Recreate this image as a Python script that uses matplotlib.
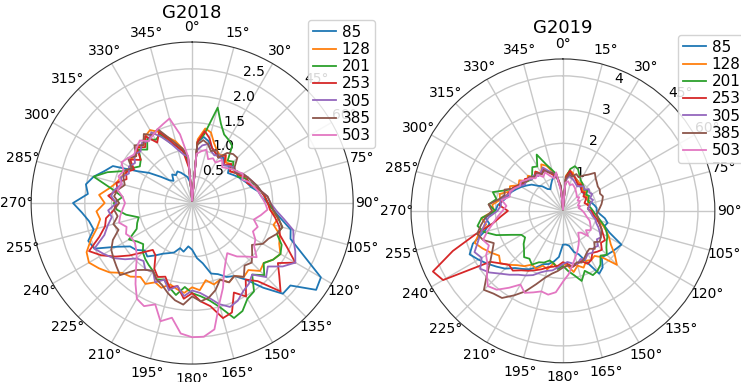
import numpy as np
import matplotlib
matplotlib.use("Agg")
import matplotlib.pyplot as plt

# Direction bins (degrees, clockwise from north), 5-degree steps
angles_deg = list(range(0, 360, 5))
series_labels = ["85", "128", "201", "253", "305", "385", "503"]

# ---- G2018 ----
g18_85 = [0.05, 1.14, 1.25, 1.19, 1.09, 1.03, 0.98, 1.03, 0.92, 0.98, 0.87, 0.92,
          0.98, 1.03, 1.09, 1.14, 1.25, 1.3, 1.41, 1.52, 1.68, 1.9, 1.95, 2.28,
          2.77, 2.82, 2.39, 2.39, 2.06, 1.74, 1.57, 1.52, 1.41, 1.36, 1.14, 1.03,
          0.87, 0.81, 0.92, 0.87, 0.98, 1.03, 1.09, 1.19, 1.3, 1.25, 1.36, 1.41,
          1.63, 2.01, 2.06, 1.9, 1.95, 2.06, 2.22, 1.95, 2.01, 1.9, 1.74, 1.63,
          1.19, 0.98, 0.76, 0.6, 0.54, 0.65, 0.6, 0.65, 0.6, 0.54, 0.49, 0.38]
g18_128 = [0.05, 1.19, 1.41, 1.36, 1.19, 1.09, 1.03, 1.09, 0.98, 1.03, 0.92, 0.98,
           1.03, 1.09, 1.14, 1.19, 1.3, 1.36, 1.41, 1.46, 1.63, 1.57, 1.74, 1.79,
           1.9, 1.84, 1.74, 1.79, 1.63, 1.68, 1.57, 1.63, 1.52, 1.57, 1.46, 1.63,
           1.57, 1.68, 1.63, 1.57, 1.68, 1.63, 1.74, 1.68, 1.79, 1.84, 2.01, 2.12,
           2.22, 2.17, 2.01, 1.84, 1.74, 1.79, 1.63, 1.74, 1.57, 1.46, 1.41, 1.36,
           1.3, 1.41, 1.36, 1.46, 1.41, 1.52, 1.57, 1.46, 1.3, 1.19, 1.03, 0.81]
g18_201 = [0.05, 1.14, 1.3, 1.84, 1.57, 1.41, 1.36, 1.3, 1.03, 1.09, 0.98, 1.03,
           0.98, 1.09, 1.14, 1.25, 1.3, 1.36, 1.41, 1.52, 1.63, 1.74, 1.68, 1.84,
           1.9, 1.84, 1.74, 1.9, 1.74, 2.01, 2.06, 2.22, 2.28, 2.01, 1.84, 1.74,
           1.68, 1.57, 1.74, 1.63, 1.52, 1.57, 1.46, 1.41, 1.36, 1.3, 1.19, 1.25,
           1.36, 1.14, 1.09, 1.03, 1.25, 1.41, 1.46, 1.3, 1.52, 1.9, 1.68, 1.41,
           1.3, 1.19, 1.25, 1.41, 1.3, 1.46, 1.36, 1.41, 1.19, 1.09, 0.98, 0.76]
g18_253 = [0.05, 1.14, 1.36, 1.25, 1.09, 1.03, 0.98, 1.09, 0.92, 1.03, 0.92, 0.98,
           1.03, 1.14, 1.09, 1.19, 1.3, 1.36, 1.41, 1.46, 1.57, 1.68, 1.74, 1.95,
           2.22, 1.95, 2.12, 2.33, 1.9, 1.74, 2.01, 1.84, 2.17, 2.22, 1.95, 1.84,
           1.68, 1.79, 1.57, 1.63, 1.46, 1.52, 1.41, 1.19, 1.14, 1.3, 1.52, 1.74,
           1.95, 2.12, 1.84, 1.68, 1.63, 1.46, 1.41, 1.57, 1.41, 1.46, 1.3, 1.36,
           1.25, 1.41, 1.25, 1.46, 1.36, 1.52, 1.3, 1.46, 1.25, 1.09, 0.98, 0.65]
g18_305 = [0.05, 0.98, 1.09, 1.14, 1.03, 0.98, 1.03, 0.98, 0.92, 0.98, 1.03, 0.98,
           1.09, 1.14, 1.19, 1.25, 1.3, 1.41, 1.46, 1.57, 1.74, 1.95, 2.01, 2.12,
           2.22, 2.06, 1.84, 1.95, 1.74, 1.84, 1.9, 2.01, 2.06, 1.95, 1.79, 1.68,
           1.63, 1.74, 1.57, 1.68, 1.52, 1.63, 1.46, 1.52, 1.41, 1.46, 1.63, 1.79,
           1.9, 2.01, 1.74, 1.63, 1.52, 1.57, 1.41, 1.52, 1.46, 1.36, 1.41, 1.3,
           1.36, 1.3, 1.41, 1.36, 1.46, 1.41, 1.52, 1.36, 1.19, 1.03, 0.92, 0.87]
g18_385 = [0.05, 1.09, 1.19, 1.14, 1.03, 1.09, 0.98, 1.14, 1.19, 1.19, 1.03, 0.98,
           1.09, 1.14, 1.19, 1.25, 1.3, 1.41, 1.46, 1.52, 1.63, 1.74, 1.68, 1.57,
           1.52, 1.36, 1.46, 1.57, 1.52, 1.68, 1.57, 1.63, 1.52, 1.68, 1.79, 1.84,
           1.74, 1.9, 1.84, 1.74, 1.63, 1.57, 1.46, 1.52, 1.63, 1.9, 1.84, 1.79,
           1.74, 1.63, 1.46, 1.52, 1.41, 1.46, 1.36, 1.46, 1.41, 1.3, 1.36, 1.41,
           1.3, 1.46, 1.36, 1.52, 1.41, 1.57, 1.46, 1.52, 1.3, 1.14, 1.03, 0.87]
g18_503 = [0.05, 0.92, 0.98, 1.03, 0.87, 0.92, 0.87, 0.98, 0.87, 0.92, 0.98, 1.03,
           1.09, 1.03, 1.14, 1.19, 1.25, 1.3, 1.36, 1.41, 1.3, 1.19, 1.3, 1.25,
           1.36, 1.41, 1.57, 1.41, 1.3, 1.14, 1.25, 1.41, 1.68, 1.95, 2.39, 2.5,
           2.5, 2.44, 2.17, 2.28, 2.01, 2.12, 2.06, 1.84, 1.63, 1.46, 1.36, 1.3,
           1.3, 1.36, 1.3, 1.41, 1.36, 1.3, 1.25, 1.3, 1.41, 1.36, 1.46, 1.41,
           1.52, 1.46, 1.41, 1.46, 1.52, 1.41, 1.46, 1.52, 1.57, 1.63, 1.3, 0.87]

# ---- G2019 ----
g19_85 = [0.05, 0.95, 1.16, 1.1, 1.05, 1.0, 0.95, 0.89, 0.84, 0.89, 0.79, 0.84,
          0.84, 0.79, 0.84, 0.89, 0.95, 1.0, 1.0, 1.1, 1.26, 1.37, 1.31, 1.52,
          2.0, 1.94, 1.89, 1.84, 1.79, 2.05, 2.15, 1.68, 1.37, 1.26, 1.05, 1.0,
          1.0, 1.37, 1.52, 1.63, 1.68, 1.84, 2.0, 2.1, 2.21, 2.42, 2.57, 2.73,
          2.89, 3.05, 2.84, 2.42, 2.21, 2.31, 2.0, 1.94, 1.79, 1.68, 1.63, 1.52,
          1.42, 1.31, 1.21, 1.05, 0.95, 0.79, 0.74, 0.84, 0.95, 1.05, 1.0, 0.63]
g19_128 = [0.05, 1.05, 1.21, 1.16, 1.05, 1.0, 0.95, 1.0, 0.89, 0.84, 0.89, 0.79,
           0.84, 0.79, 0.84, 0.74, 0.79, 0.74, 0.79, 0.84, 0.95, 1.1, 1.26, 1.42,
           1.58, 1.73, 2.0, 2.26, 1.79, 1.63, 1.68, 1.63, 1.79, 1.68, 1.84, 1.63,
           1.58, 1.68, 1.58, 1.79, 1.73, 1.89, 1.84, 2.0, 2.1, 2.26, 2.42, 2.31,
           2.47, 2.63, 2.78, 2.57, 2.31, 2.42, 2.05, 2.1, 1.89, 1.94, 1.68, 1.73,
           1.52, 1.58, 1.37, 1.47, 1.31, 1.42, 1.26, 1.52, 1.42, 1.21, 1.1, 0.74]
g19_201 = [0.05, 1.0, 1.26, 1.37, 1.31, 1.16, 1.05, 1.0, 0.95, 0.89, 0.95, 0.84,
           0.89, 0.84, 0.79, 0.84, 0.79, 0.84, 0.89, 0.95, 1.05, 1.16, 1.31, 1.42,
           1.52, 1.58, 1.68, 1.84, 1.73, 1.94, 2.05, 2.1, 1.89, 2.15, 1.94, 1.79,
           1.63, 1.73, 1.58, 1.52, 1.63, 1.68, 1.84, 1.73, 1.79, 1.63, 1.52, 1.37,
           1.42, 1.68, 2.1, 2.42, 2.57, 2.42, 2.0, 2.21, 2.0, 2.15, 1.79, 1.58,
           1.47, 1.42, 1.37, 1.31, 1.42, 1.58, 1.52, 1.84, 1.47, 1.26, 1.1, 0.63]
g19_253 = [0.05, 1.0, 1.21, 1.1, 1.05, 0.95, 0.89, 0.95, 0.84, 0.79, 0.84, 0.74,
           0.79, 0.74, 0.68, 0.74, 0.79, 0.74, 0.84, 0.89, 0.95, 1.05, 1.16, 1.26,
           1.37, 1.52, 1.47, 1.63, 1.58, 1.52, 1.68, 1.73, 1.58, 1.63, 1.68, 1.58,
           1.52, 1.63, 1.68, 1.73, 1.84, 1.94, 2.05, 2.15, 2.31, 2.26, 2.42, 2.63,
           4.1, 4.25, 3.47, 2.68, 2.1, 1.84, 1.63, 1.89, 1.84, 1.73, 1.68, 1.63,
           1.52, 1.42, 1.47, 1.37, 1.31, 1.42, 1.26, 1.37, 1.21, 1.1, 1.0, 0.68]
g19_305 = [0.05, 0.89, 1.05, 1.0, 0.95, 0.89, 0.84, 0.89, 0.95, 0.89, 1.0, 0.95,
           1.0, 0.89, 0.95, 0.84, 0.79, 0.74, 0.79, 0.84, 0.89, 1.0, 1.05, 1.16,
           1.26, 1.37, 1.31, 1.47, 1.42, 1.52, 1.47, 1.58, 1.52, 1.63, 1.58, 1.52,
           1.58, 1.68, 1.79, 1.84, 1.94, 2.1, 2.21, 2.31, 2.47, 2.63, 2.84, 2.99,
           2.78, 2.89, 2.68, 2.52, 2.36, 2.21, 1.94, 1.84, 1.89, 1.73, 1.63, 1.58,
           1.47, 1.37, 1.42, 1.31, 1.37, 1.26, 1.31, 1.42, 1.26, 1.16, 1.05, 0.74]
g19_385 = [0.05, 0.95, 1.1, 1.05, 1.16, 1.1, 1.21, 1.31, 1.47, 1.37, 1.31, 1.26,
           1.26, 1.21, 1.26, 1.21, 1.16, 1.1, 1.05, 1.0, 1.05, 1.1, 1.16, 1.26,
           1.31, 1.37, 1.42, 1.31, 1.47, 1.37, 1.42, 1.52, 1.63, 1.58, 1.68, 1.63,
           1.68, 1.79, 1.89, 2.05, 2.31, 2.63, 2.89, 3.15, 3.2, 3.31, 2.94, 2.63,
           2.42, 2.26, 2.52, 2.63, 2.47, 2.31, 2.1, 2.21, 1.94, 1.79, 1.84, 1.58,
           1.52, 1.47, 1.37, 1.42, 1.31, 1.37, 1.26, 1.31, 1.21, 1.16, 1.0, 0.74]
g19_503 = [0.05, 0.84, 0.89, 0.79, 0.84, 0.79, 0.74, 0.68, 0.63, 0.58, 0.63, 0.53,
           0.58, 0.53, 0.47, 0.53, 0.47, 0.53, 0.58, 0.63, 0.68, 0.74, 0.84, 0.89,
           0.95, 1.0, 0.89, 1.05, 0.84, 0.79, 0.95, 1.1, 1.26, 1.42, 1.63, 1.89,
           2.1, 2.42, 2.52, 2.47, 2.57, 2.68, 2.52, 2.78, 3.05, 3.15, 2.94, 2.73,
           2.63, 2.42, 2.52, 2.31, 2.1, 1.94, 1.79, 1.68, 1.84, 1.63, 1.68, 1.58,
           1.47, 1.52, 1.42, 1.37, 1.26, 1.31, 1.16, 1.26, 1.1, 1.0, 1.16, 0.53]

g18_series = [g18_85, g18_128, g18_201, g18_253, g18_305, g18_385, g18_503]
g19_series = [g19_85, g19_128, g19_201, g19_253, g19_305, g19_385, g19_503]

g18_rticks = [0.5, 1.0, 1.5, 2.0, 2.5]
g19_rticks = [1, 2, 3, 4]

colors = plt.rcParams["axes.prop_cycle"].by_key()["color"]
theta = np.deg2rad(np.append(angles_deg, 360))

fig = plt.figure(figsize=(7.41, 3.82), dpi=100)


def rose(rect, title, series, rticks, rmax, title_pad, legend_anchor):
    ax = fig.add_axes(rect, projection="polar")
    ax.set_theta_zero_location("N")
    ax.set_theta_direction(-1)
    for vals, lab, col in zip(series, series_labels, colors):
        r = np.append(vals, vals[0])
        ax.plot(theta, r, color=col, lw=1.3, label=lab)
    ax.set_thetagrids(np.arange(0, 360, 15), fontsize=10)
    ax.set_rticks(rticks)
    ax.set_rlim(0, rmax)
    ax.tick_params(axis="x", pad=0)
    ax.tick_params(axis="y", labelsize=10)
    ax.grid(True, color="#c8c8c8", lw=1.0)
    ax.spines["polar"].set_color("#333333")
    ax.set_title(title, fontsize=13, y=1.0, pad=title_pad)
    fig.legend(loc="upper left", bbox_to_anchor=legend_anchor,
               handles=ax.get_lines(), fontsize=11, labelspacing=0.15,
               handlelength=1.5, handletextpad=0.4, borderpad=0.3,
               borderaxespad=0.0, framealpha=0.85)
    return ax


rose([0.042, 0.047, 0.4346, 0.843], "G2018", g18_series, g18_rticks, 3.0,
     17, (308 / 741, 1 - 20 / 382))
rose([0.5547, 0.050, 0.410, 0.796], "G2019", g19_series, g19_rticks, 4.5,
     19, (678 / 741, 1 - 35 / 382))

fig.savefig("out.png", dpi=100)
